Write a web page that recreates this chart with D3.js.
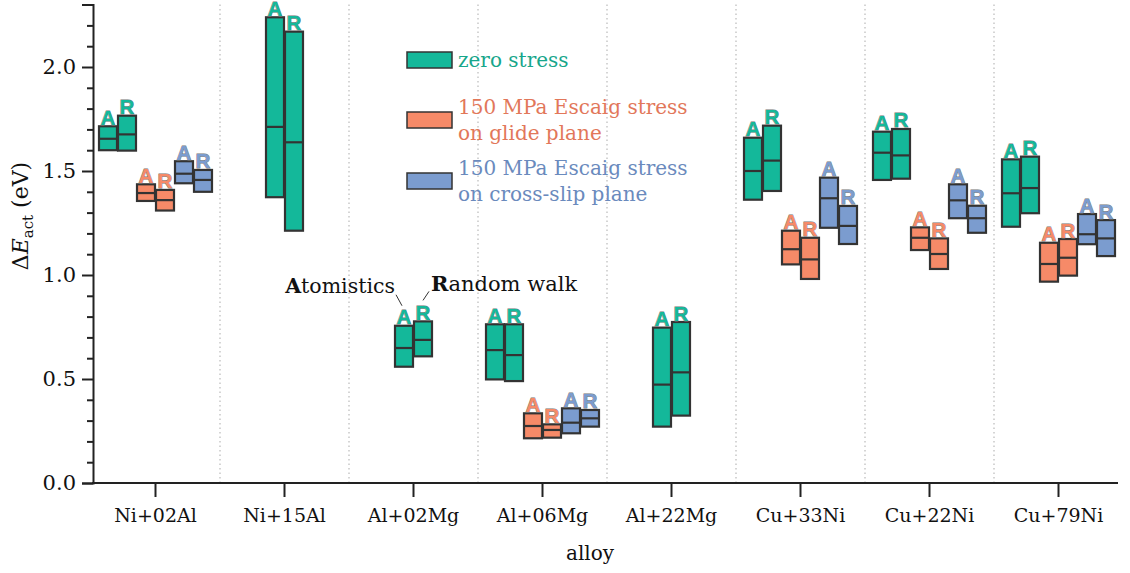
<!DOCTYPE html>
<html>
<head>
<meta charset="utf-8">
<script src="https://cdn.jsdelivr.net/npm/d3@7"></script>
<style>
	body { margin: 0; background: #fff; }
	svg text { font-family: "DejaVu Serif", serif; }
	.axis path, .axis line { stroke: #222; stroke-width: 2; }
	.axis text { font-size: 19px; fill: #111; }
	.ytick text { font-size: 21px; }
	.tag { font-family: "Liberation Sans", Arial, sans-serif !important; font-weight: bold; font-size: 20.5px; paint-order: stroke; stroke-width: 0.8; }
</style>
</head>
<body>
<script>
// alloys along the x axis
var alloys = ["Ni+02Al", "Ni+15Al", "Al+02Mg", "Al+06Mg", "Al+22Mg", "Cu+33Ni", "Cu+22Ni", "Cu+79Ni"];

var seriesNames = ["zero stress", "150 MPa Escaig stress\non glide plane", "150 MPa Escaig stress\non cross-slip plane"];
var fills = ["#14b89a", "#f68a68", "#7b9ccf"];
var textColors = ["#17a68b", "#e2775a", "#6a8abd"];

// [low, mean, high] per alloy; null where there is no result
var zeroA = [[1.60, 1.655, 1.715], [1.374, 1.712, 2.239], [0.559, 0.649, 0.756], [0.498, 0.639, 0.763], [0.271, 0.473, 0.747], [1.362, 1.50, 1.660], [1.457, 1.588, 1.689], [1.232, 1.393, 1.556]];
var zeroR = [[1.598, 1.676, 1.766], [1.213, 1.638, 2.170], [0.609, 0.688, 0.777], [0.490, 0.615, 0.763], [0.324, 0.532, 0.774], [1.404, 1.550, 1.718], [1.463, 1.575, 1.702], [1.297, 1.418, 1.569]];
var glideA = [[1.356, 1.394, 1.436], null, null, [0.215, 0.274, 0.335], null, [1.051, 1.124, 1.213], [1.12, 1.179, 1.229], [0.968, 1.053, 1.155]];
var glideR = [[1.31, 1.36, 1.409], null, null, [0.218, 0.255, 0.282], null, [0.981, 1.075, 1.179], [1.029, 1.101, 1.176], [0.997, 1.083, 1.173]];
var crossA = [[1.441, 1.487, 1.547], null, null, [0.239, 0.29, 0.359], null, [1.227, 1.369, 1.468], [1.273, 1.359, 1.436], [1.148, 1.196, 1.293]];
var crossR = [[1.40, 1.457, 1.505], null, null, [0.271, 0.311, 0.351], null, [1.149, 1.236, 1.332], [1.203, 1.273, 1.333], [1.091, 1.176, 1.264]];

var yMajor = [0, 0.5, 1.0, 1.5, 2.0];
var yMinor = [0.1, 0.2, 0.3, 0.4, 0.6, 0.7, 0.8, 0.9, 1.1, 1.2, 1.3, 1.4, 1.6, 1.7, 1.8, 1.9, 2.1, 2.2];

var W = 1130, H = 573;
var boxW = 18, pairGap = 9.5, groupGap = 38;

var svg = d3.select("body").append("svg")
	.attr("width", W)
	.attr("height", H);

var x = d3.scaleBand().domain(alloys).range([91, 1123]);
var y = d3.scaleLinear().domain([0, 2.3]).range([483, 4.6]);

// dotted separators between alloys
svg.append("g").selectAll("line")
	.data(alloys.slice(1)).enter()
	.append("line")
		.attr("x1", function(d) { return x(d); })
		.attr("x2", function(d) { return x(d); })
		.attr("y1", y(2.3))
		.attr("y2", y(0))
		.attr("stroke", "#c8c8c8")
		.attr("stroke-width", 1.5)
		.attr("stroke-dasharray", "1.5,3");

// axes
svg.append("g").attr("class", "axis ytick")
	.attr("transform", "translate(93,0)")
	.call(d3.axisLeft(y).tickValues(yMajor).tickSize(11).tickPadding(6).tickFormat(d3.format(".1f")));
svg.append("g").attr("class", "axis")
	.attr("transform", "translate(93,0)")
	.call(d3.axisLeft(y).tickValues(yMinor).tickSize(6).tickFormat(""))
	.select(".domain").remove();

var xAxis = svg.append("g").attr("class", "axis")
	.attr("transform", "translate(0,483)")
	.call(d3.axisBottom(x).tickSize(14).tickSizeOuter(0).tickPadding(12));
xAxis.select(".domain").attr("d", "M92,0H1118");

svg.append("text")
	.attr("x", 590).attr("y", 560)
	.attr("text-anchor", "middle")
	.style("font-size", "20px").attr("fill", "#111")
	.text("alloy");

var yLab = svg.append("text")
	.attr("transform", "translate(28,216) rotate(-90)")
	.attr("text-anchor", "middle")
	.style("font-size", "22px").attr("fill", "#111");
yLab.append("tspan").text("Δ");
yLab.append("tspan").style("font-style", "italic").text("E");
yLab.append("tspan").attr("dy", 5).style("font-size", "15px").text("act");
yLab.append("tspan").attr("dy", -5).text(" (eV)");

// boxes
var groups = [[zeroA, zeroR], [glideA, glideR], [crossA, crossR]];
var boxes = [];
alloys.forEach(function(a, i) {
	var present = [0, 1, 2].filter(function(s) { return groups[s][0][i] != null; });
	present.forEach(function(s, k) {
		var gx = x(a) + x.bandwidth() / 2 + (k - (present.length - 1) / 2) * groupGap;
		boxes.push({alloy: a, s: s, tag: "A", cx: gx - pairGap, v: groups[s][0][i]});
		boxes.push({alloy: a, s: s, tag: "R", cx: gx + pairGap, v: groups[s][1][i]});
	});
});

var bx = svg.append("g").selectAll("g")
	.data(boxes).enter()
	.append("g");
bx.append("rect")
	.attr("x", function(d) { return d.cx - boxW / 2; })
	.attr("y", function(d) { return y(d.v[2]); })
	.attr("width", boxW)
	.attr("height", function(d) { return y(d.v[0]) - y(d.v[2]); })
	.attr("fill", function(d) { return fills[d.s]; })
	.attr("stroke", "#333")
	.attr("stroke-width", 2.2);
bx.append("line")
	.attr("x1", function(d) { return d.cx - boxW / 2; })
	.attr("x2", function(d) { return d.cx + boxW / 2; })
	.attr("y1", function(d) { return y(d.v[1]); })
	.attr("y2", function(d) { return y(d.v[1]); })
	.attr("stroke", "#333")
	.attr("stroke-width", 2.2);
bx.append("text")
	.attr("class", "tag")
	.attr("x", function(d) { return d.cx; })
	.attr("y", function(d) { return y(d.v[2]) - 1.5; })
	.attr("text-anchor", "middle")
	.attr("fill", function(d) { return fills[d.s]; })
	.attr("stroke", "#777")
	.text(function(d) { return d.tag; });

// legend
var legendY = [60, 120, 181];
var leg = svg.append("g").selectAll("g")
	.data(seriesNames).enter()
	.append("g")
		.attr("transform", function(d, i) { return "translate(407," + legendY[i] + ")"; });
leg.append("rect")
	.attr("x", 0).attr("y", -8)
	.attr("width", 45).attr("height", 16)
	.attr("fill", function(d, i) { return fills[i]; })
	.attr("stroke", "#333").attr("stroke-width", 1.5);
leg.each(function(d, i) {
	var lines = d.split("\n");
	var t = d3.select(this).append("text")
		.attr("x", 51)
		.attr("y", 7 - (lines.length - 1) * 13)
		.attr("fill", textColors[i])
		.style("font-size", "20px");
	lines.forEach(function(l, j) {
		t.append("tspan").attr("x", 51).attr("dy", j ? 26 : 0).text(l);
	});
});

// annotation pointing at the Al+02Mg pair
var ann = boxes.filter(function(d) { return d.alloy == "Al+02Mg" && d.s == 0; });
var aBox = ann[0], rBox = ann[1];
var t1 = svg.append("text")
	.attr("x", aBox.cx - 9).attr("y", y(aBox.v[2]) - 33)
	.attr("text-anchor", "end")
	.style("font-size", "20.5px").attr("fill", "#111");
t1.append("tspan").style("font-weight", "bold").text("A");
t1.append("tspan").text("tomistics");
svg.append("line")
	.attr("x1", aBox.cx - 8).attr("y1", y(aBox.v[2]) - 31)
	.attr("x2", aBox.cx - 2).attr("y2", y(aBox.v[2]) - 20)
	.attr("stroke", "#333").attr("stroke-width", 1);
var t2 = svg.append("text")
	.attr("x", rBox.cx + 8).attr("y", y(rBox.v[2]) - 30)
	.style("font-size", "21px").attr("fill", "#111");
t2.append("tspan").style("font-weight", "bold").text("R");
t2.append("tspan").text("andom walk");
svg.append("line")
	.attr("x1", rBox.cx + 6).attr("y1", y(rBox.v[2]) - 30)
	.attr("x2", rBox.cx).attr("y2", y(rBox.v[2]) - 21)
	.attr("stroke", "#333").attr("stroke-width", 1);
</script>
</body>
</html>
